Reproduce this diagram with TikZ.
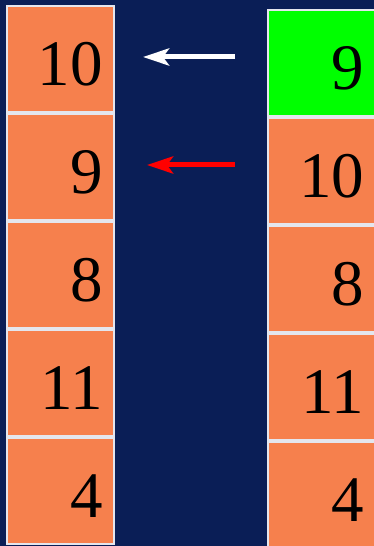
\documentclass[tikz,border=0pt]{standalone}
\usepackage{fontspec}
\setmainfont{Liberation Serif}
\usetikzlibrary{positioning,arrows.meta}
\definecolor{bgnavy}{RGB}{10,30,86}
\definecolor{cellorange}{RGB}{246,128,77}
\definecolor{cellgreen}{RGB}{0,255,0}
\definecolor{cellrim}{RGB}{228,230,238}
\definecolor{arrred}{RGB}{255,0,0}
\tikzset{
  fig/.style={x=1pt,y=1pt},
  cell/.style={draw=cellrim,line width=2pt,fill=cellorange,
               minimum width=107pt,minimum height=106pt,
               text width=85pt,inner xsep=11pt,align=right,
               text height=54pt,text depth=0pt,
               font=\fontsize{65}{65}\selectfont},
  hitcell/.style={cell,fill=cellgreen},
  arrw/.style={-{Stealth[length=26pt,width=17pt,inset=6pt]},line width=5pt},
}

\begin{document}
\begin{tikzpicture}[fig]
\clip (0,0) rectangle (374,546);
\fill[bgnavy] (0,0) rectangle (374,546);

% --- left column
\node[cell] (l1) at (60.5,487) {10};
\node[cell,below=0pt of l1] (l2) {9};
\node[cell,below=0pt of l2] (l3) {8};
\node[cell,below=0pt of l3] (l4) {11};
\node[cell,below=0pt of l4] (l5) {4};

% --- right column
\node[hitcell] (r1) at (321.5,483) {9};
\node[cell,below=0pt of r1] (r2) {10};
\node[cell,below=0pt of r2] (r3) {8};
\node[cell,below=0pt of r3] (r4) {11};
\node[cell,below=0pt of r4] (r5) {4};

% --- arrows
\draw[arrw,white,shorten <=32pt,shorten >=28pt]
  ([yshift=2pt]l1.east -| r1.west) -- ([yshift=2pt]l1.east);
\draw[arrw,arrred,shorten <=32pt,shorten >=32pt]
  ([yshift=2pt]l2.east -| r2.west) -- ([yshift=2pt]l2.east);

\end{tikzpicture}
\end{document}
